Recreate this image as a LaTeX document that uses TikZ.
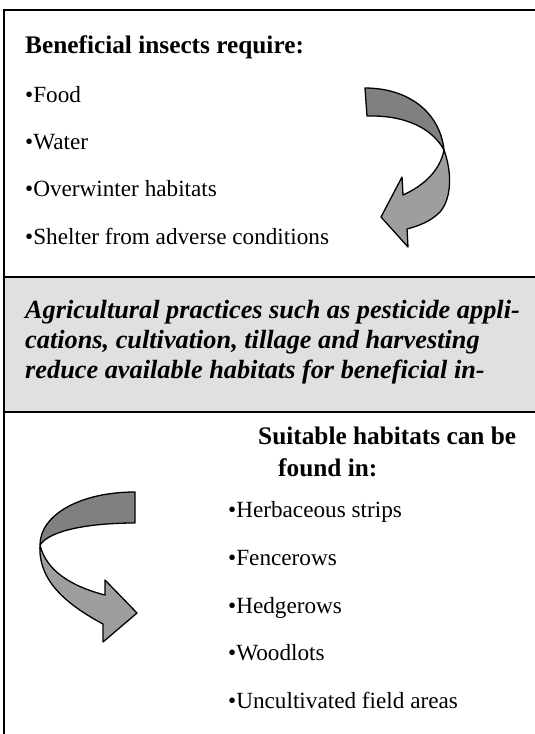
\documentclass[tikz,border=0pt]{standalone}
\usepackage{fontspec}
\setmainfont{Liberation Serif}
\definecolor{bandgray}{RGB}{224,224,224}
\definecolor{arrowdark}{RGB}{128,128,128}
\definecolor{arrowlight}{RGB}{158,158,158}
\begin{document}
\begin{tikzpicture}[x=1pt,y=-1pt,
  rule/.style={line width=2pt,black},
  head/.style={anchor=base west,inner sep=0pt,font=\fontsize{25.3}{30}\selectfont\bfseries},
  item/.style={anchor=base west,inner sep=0pt,font=\fontsize{23.2}{27}\selectfont},
  agri/.style={anchor=base west,inner sep=0pt,font=\fontsize{26.3}{30}\selectfont\bfseries\itshape},
  ribbon/.style={draw=black,line width=1.3pt,line join=round}]
\useasboundingbox (0,0) rectangle (535,734);
% band
\fill[bandgray] (5,277) rectangle (536,412);
\draw[rule] (3,9.5) -- (536,9.5);
\draw[rule] (4,8.5) -- (4,735);
\draw[rule] (3,277) -- (536,277);
\draw[rule] (3,412) -- (536,412);
% top text
\node[head] (h1) at (25,53) {Beneficial insects require:};
\node[item] (i1) at (25,102) {\textbullet Food};
\node[item] (i2) at (25,149) {\textbullet Water};
\node[item] (i3) at (25,196) {\textbullet Overwinter habitats};
\node[item] (i4) at (25,244) {\textbullet Shelter from adverse conditions};
% band text
\node[agri] (a1) at (25,318) {Agricultural practices such as pesticide appli-};
\node[agri] (a2) at (25,348) {cations, cultivation, tillage and harvesting};
\node[agri] (a3) at (25,378) {reduce available habitats for beneficial in-};
% bottom text
\node[head] (h2) at (258,444) {Suitable habitats can be};
\node[head] (h3) at (278,476) {found in:};
\node[item] (j1) at (228,517) {\textbullet Herbaceous strips};
\node[item] (j2) at (228,565) {\textbullet Fencerows};
\node[item] (j3) at (228,613) {\textbullet Hedgerows};
\node[item] (j4) at (228,660) {\textbullet Woodlots};
\node[item] (j5) at (228,708) {\textbullet Uncultivated field areas};
% top arrow
\filldraw[ribbon,fill=arrowdark] (365,88) .. controls (408,88) and (440,112) .. (444,150)
  .. controls (432,128) and (405,115) .. (367,116) -- cycle;
\filldraw[ribbon,fill=arrowlight] (444,150) .. controls (452,172) and (452,198) .. (440,212)
  .. controls (430,222) and (418,226) .. (407,229) -- (408,247) -- (381,217) -- (402,177) -- (403,195)
  .. controls (425,185) and (440,170) .. (444,150) -- cycle;
% bottom arrow
\filldraw[ribbon,fill=arrowdark] (135,492) .. controls (80,492) and (40,515) .. (40,545)
  .. controls (50,530) and (90,523) .. (135,523) -- cycle;
\filldraw[ribbon,fill=arrowlight] (40,545) .. controls (38,578) and (62,602) .. (103,624)
  -- (103,642) -- (137,613) -- (105,580) -- (105,595)
  .. controls (70,586) and (46,570) .. (40,545) -- cycle;
\end{tikzpicture}
\end{document}
